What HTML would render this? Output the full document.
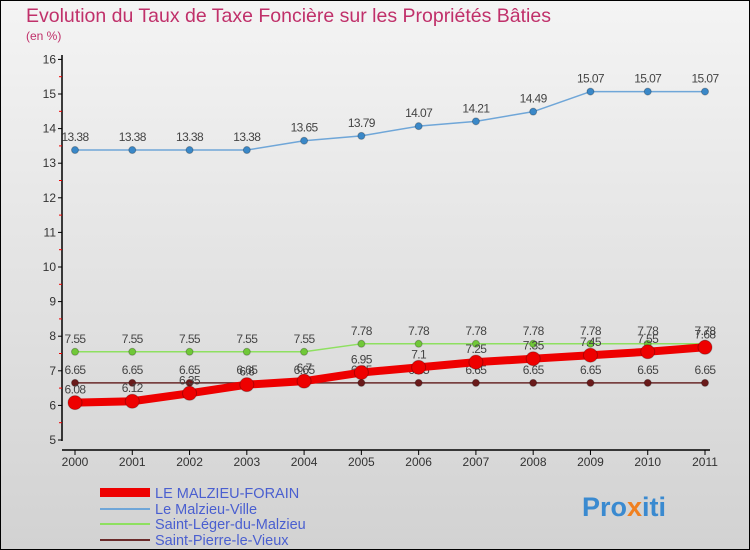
<!DOCTYPE html>
<html><head><meta charset="utf-8"><style>
body{margin:0;width:750px;height:550px;overflow:hidden;font-family:"Liberation Sans",sans-serif}
svg{display:block}
</style></head><body>
<svg id="c" width="750" height="550">
<defs><linearGradient id="bg" x1="0" y1="0" x2="0" y2="1"><stop offset="0" stop-color="#f4f4f4"/><stop offset="1" stop-color="#d2d2d2"/></linearGradient></defs>
<rect x="0" y="0" width="750" height="550" fill="url(#bg)" stroke="#000" stroke-width="2"/>
<text x="26" y="22" font-size="19.5" fill="#c0306a">Evolution du Taux de Taxe Foncière sur les Propriétés Bâties</text>
<text x="26" y="40" font-size="12" fill="#c0306a">(en %)</text>
<g id="axes"></g>
<g id="series"></g>
<g id="legend">
<rect x="100" y="488" width="50" height="9" fill="#ee0000"/>
<text x="155" y="498" font-size="14.5" fill="#4a5fd0">LE MALZIEU-FORAIN</text>
<line x1="100" y1="509" x2="150" y2="509" stroke="#6fa6d8" stroke-width="2"/>
<text x="155" y="514" font-size="14.5" fill="#4a5fd0">Le Malzieu-Ville</text>
<line x1="100" y1="524" x2="150" y2="524" stroke="#8ee060" stroke-width="2"/>
<text x="155" y="529" font-size="14.5" fill="#4a5fd0">Saint-Léger-du-Malzieu</text>
<line x1="100" y1="540" x2="150" y2="540" stroke="#6a2a2a" stroke-width="2"/>
<text x="155" y="545" font-size="14.5" fill="#4a5fd0">Saint-Pierre-le-Vieux</text>
</g>
<text x="582" y="516" font-size="27" font-weight="bold" fill="#3a8ad0">Pro<tspan fill="#f08020">x</tspan>iti</text>
</svg>
<script>
const years=[2000,2001,2002,2003,2004,2005,2006,2007,2008,2009,2010,2011];
const yTicks=[5,6,7,8,9,10,11,12,13,14,15,16];
const forain=[6.08,6.12,6.35,6.6,6.7,6.95,7.1,7.25,7.35,7.45,7.55,7.68];
const ville=[13.38,13.38,13.38,13.38,13.65,13.79,14.07,14.21,14.49,15.07,15.07,15.07];
const leger=[7.55,7.55,7.55,7.55,7.55,7.78,7.78,7.78,7.78,7.78,7.78,7.78];
const pierre=[6.65,6.65,6.65,6.65,6.65,6.65,6.65,6.65,6.65,6.65,6.65,6.65];
const NS='http://www.w3.org/2000/svg';
const x=i=>75+i*(630/(years.length-1));
const y=v=>440-(v-5)*34.6;
function mk(t,a,p){const e=document.createElementNS(NS,t);for(const k in a)e.setAttribute(k,a[k]);p.appendChild(e);return e;}
const ax=document.getElementById('axes');
let e=mk('line',{x1:62,y1:55,x2:62,y2:441,stroke:'#000','stroke-width':1.5},ax);


e=mk('line',{x1:62,y1:450,x2:710,y2:450,stroke:'#000','stroke-width':1.5},ax);


yTicks.forEach(v=>{
 mk('line',{x1:58,y1:y(v),x2:62,y2:y(v),stroke:'#000'},ax);
 if(v<16)mk('line',{x1:59,y1:y(v+0.5),x2:62,y2:y(v+0.5),stroke:'#e00'},ax);
 const t=mk('text',{x:56,y:y(v)+4,'font-size':12,'text-anchor':'end',fill:'#333'},ax);
 t.textContent=v;
 
 
});
years.forEach((yr,i)=>{
 mk('line',{x1:x(i),y1:450,x2:x(i),y2:455,stroke:'#000'},ax);
 const t=mk('text',{x:x(i),y:466,'font-size':12,'text-anchor':'middle',fill:'#333'},ax);
 t.textContent=yr;
 
 
});
const sg=document.getElementById('series');
function draw(vals,color,w,r,name,fill){
 const g=mk('g',{},sg);
 
 
 const l=mk('polyline',{points:vals.map((v,i)=>x(i)+','+y(v)).join(' '),fill:'none',stroke:color,'stroke-width':w,'stroke-linejoin':'round'},g);
 
 
 vals.forEach((v,i)=>{
  const c=mk('circle',{cx:x(i),cy:y(v),r:r,fill:fill,stroke:'rgba(0,0,0,0.25)'},g);
  
  
  const t=mk('text',{x:x(i),y:y(v)-9,'font-size':12,'text-anchor':'middle',fill:'#444','letter-spacing':'-0.6'},g);
  t.textContent=String(v);
  
  
 });
}
draw(ville,'#6fa6d8',1.5,3.5,'le-malzieu-ville','#3a88c8');
draw(pierre,'#6a2a2a',1.5,3.5,'saint-pierre-le-vieux','#6a1a1a');
draw(leger,'#8ee060',1.5,3.5,'saint-leger-du-malzieu','#70c838');
draw(forain,'#ee0000',8,7,'le-malzieu-forain','#ee0000');
</script>
</body></html>
